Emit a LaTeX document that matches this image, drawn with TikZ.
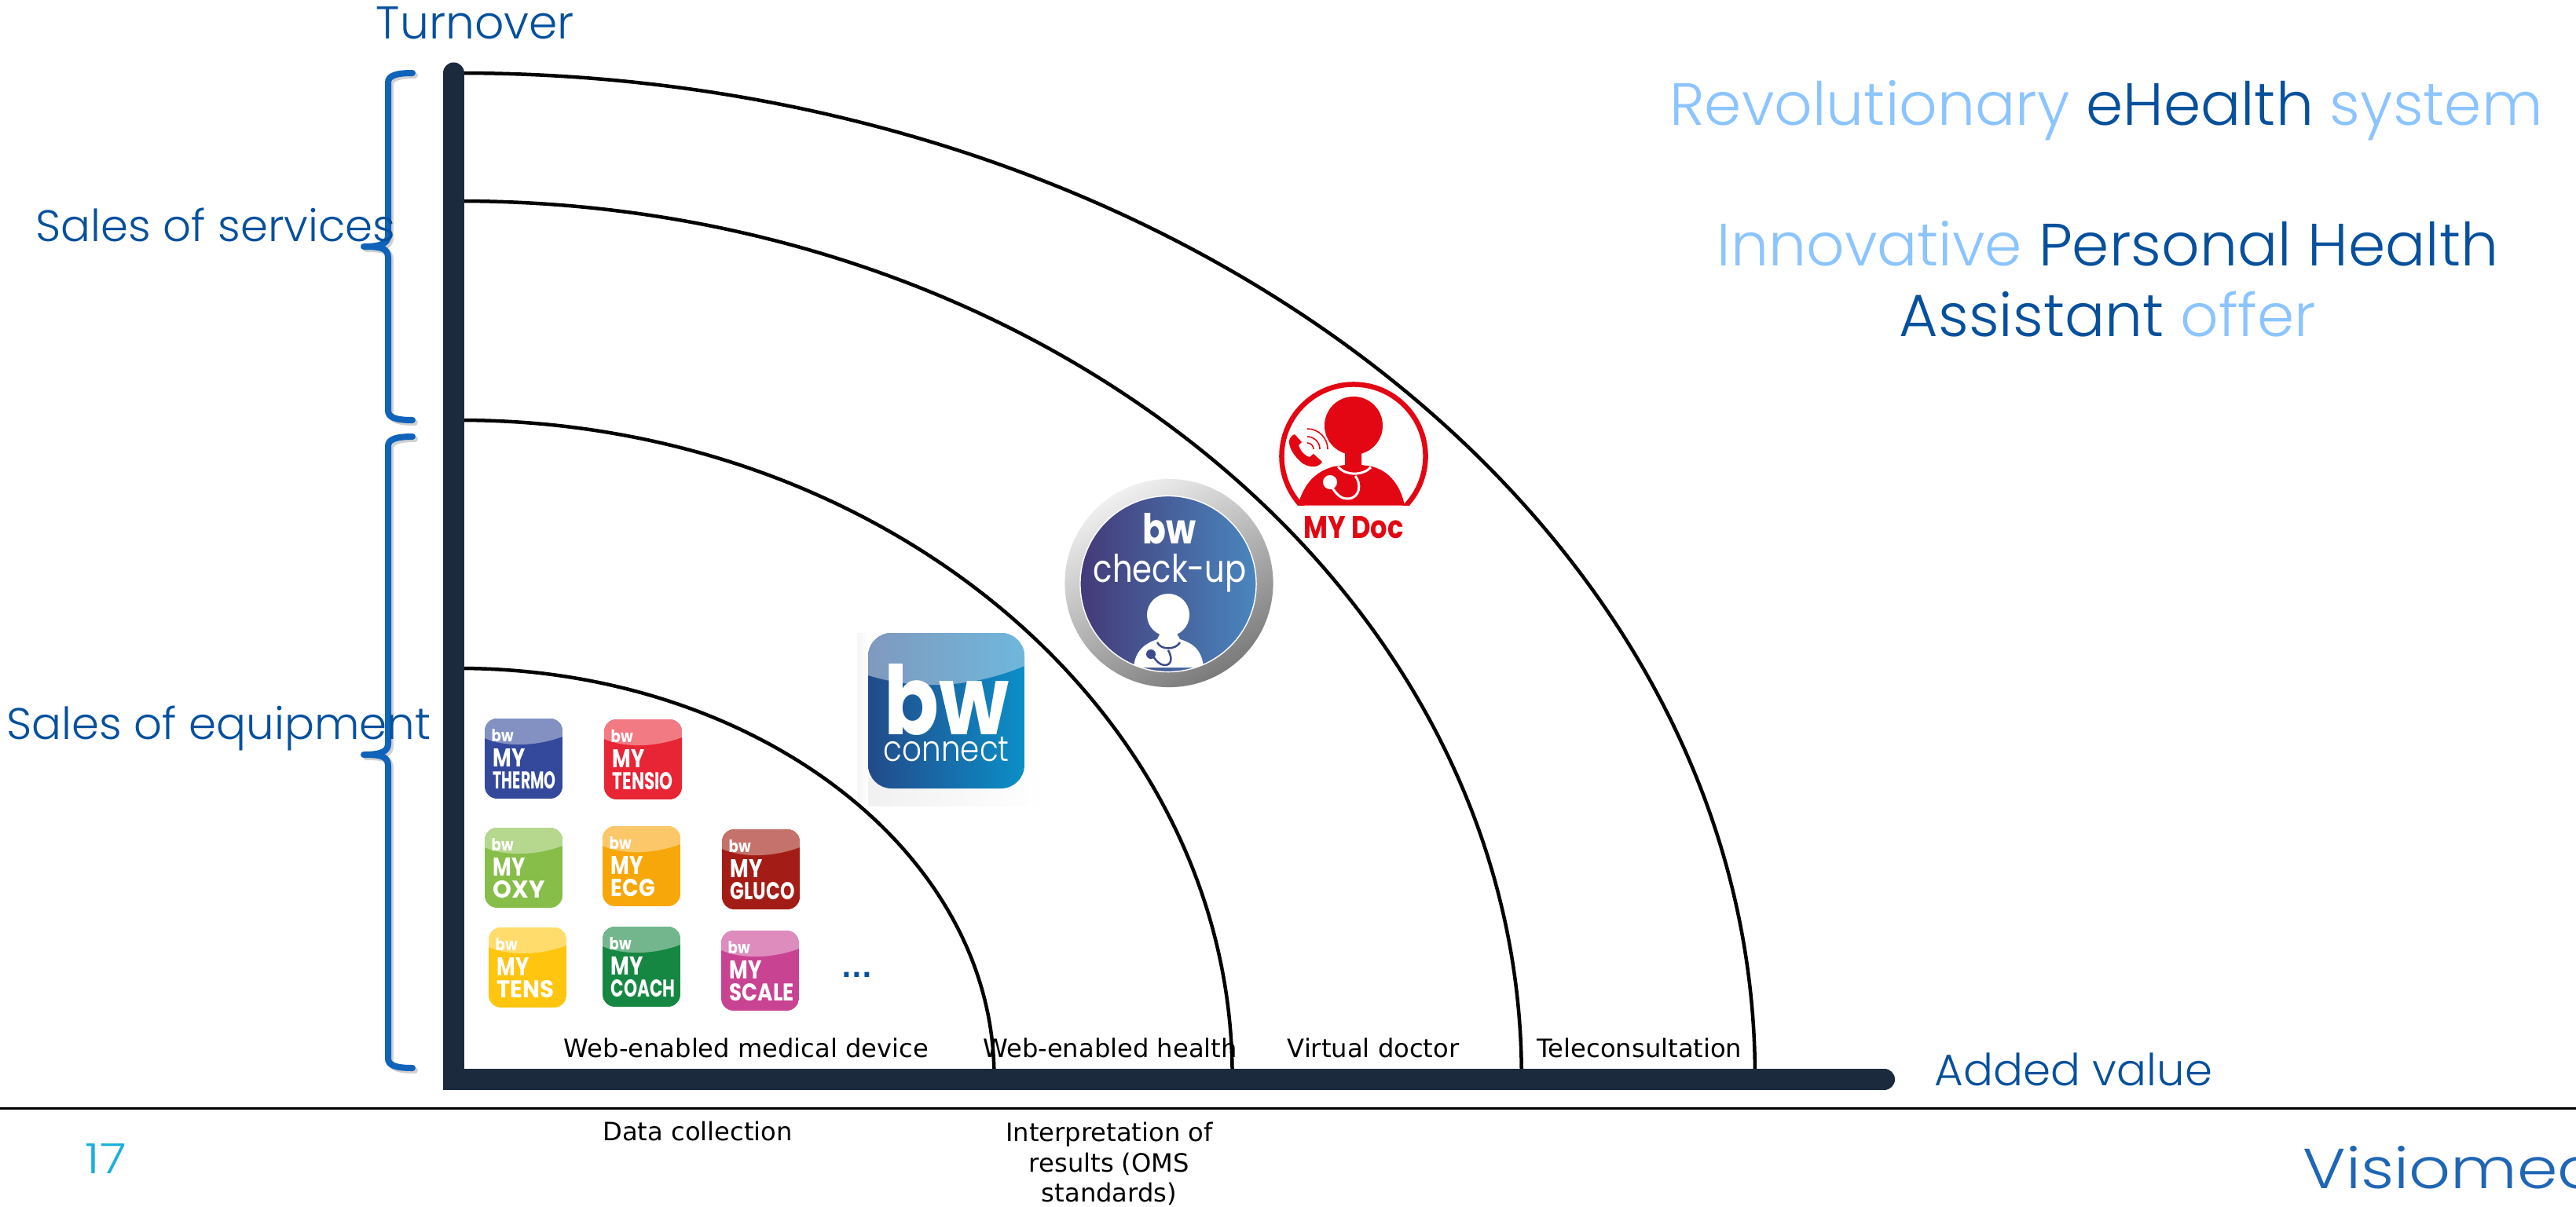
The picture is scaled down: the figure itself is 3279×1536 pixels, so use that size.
\documentclass[tikz,border=0pt]{standalone}
\usepackage{fontspec}
\usepackage{graphicx}
\setmainfont{Poppins Light}
\newfontfamily\plainfont{DejaVu Sans}
\newfontfamily\logofont{Poppins}
\usetikzlibrary{positioning}
\definecolor{axiscol}{HTML}{1C2A3E}
\definecolor{bluetxt}{HTML}{06509C}
\definecolor{paleblue}{HTML}{8CC4FF}
\definecolor{bracecol}{HTML}{0F63BA}
\definecolor{docred}{HTML}{E30613}
\definecolor{checkblue}{HTML}{3D4A8C}
\definecolor{pagecol}{HTML}{1BAFDC}
\definecolor{logocol}{HTML}{1F66B5}
\definecolor{connectA}{HTML}{234A8A}
\definecolor{connectB}{HTML}{0B8FC8}
\definecolor{connectC}{HTML}{8099BE}
\definecolor{connectD}{HTML}{6FB7DC}
\definecolor{checkA}{HTML}{443A78}
\definecolor{checkB}{HTML}{4A86BE}
\newdimen\pxu \pxu=0.01cm
\newcommand{\fitbox}[3]{\resizebox{#1\pxu}{#2\pxu}{#3}}
\tikzset{
	axisline/.style={line width=0.27cm,color=axiscol,line cap=round,line join=miter},
	curveline/.style={line width=0.045cm,color=black},
	bracket/.style={line width=0.08cm,color=bracecol,line cap=round,line join=round},
	bluelabel/.style={anchor=base west,inner sep=0pt,text=bluetxt,font=\fontsize{16}{18}\selectfont},
	headline/.style={anchor=base,inner sep=0pt,text=paleblue,font=\fontsize{21.6}{24}\selectfont},
	smalltxt/.style={anchor=base,inner sep=0pt,text=black,font=\plainfont\fontsize{9.15}{11}\selectfont},
	fitnode/.style={anchor=base west,inner sep=0pt,text=white,font=\logofont\bfseries}
}
% brace on the left of the vertical axis: top, tip, bottom
\newcommand{\salesbrace}[4]{
	\draw[#4] (525,#1) .. controls (505,#1) and (494,#1+3) .. (494,#1+12) -- (494,#2-14)
		.. controls (494,#2-4) and (485,#2) .. (463,#2) .. controls (485,#2) and (494,#2+2) .. (494,#2+14)
		-- (494,#3-12) .. controls (494,#3-3) and (505,#3) .. (525,#3);
}
% small app tile
\newcommand{\apptile}[7]{
	\definecolor{tiledark}{HTML}{#4}
	\definecolor{tilelight}{HTML}{#5}
	\begin{scope}[shift={(#2,#3)}]
		\begin{scope}
			\clip[rounded corners=4.5pt] (0,0) rectangle (99,102);
			\fill[tiledark] (0,0) rectangle (99,102);
			\fill[tilelight] (0,0) -- (0,25) .. controls (30,38) and (70,34) .. (99,23) -- (99,0) -- cycle;
		\end{scope}
		\node[fitnode] (#1bw) at (8,29) {\fitbox{28}{16}{bw}};
		\node[fitnode] (#1my) at (10,61) {\fitbox{41}{23}{MY}};
		\node[fitnode] (#1name) at (10,89) {\fitbox{#7}{22}{#6}};
	\end{scope}
}
\begin{document}
\begin{tikzpicture}[x=0.01cm,y=-0.01cm]
	\useasboundingbox (0,0) rectangle (3279,1536);
	\clip (0,0) rectangle (3279,1536);

	% pale halo under the connect tile
	\shade[left color=black!6,right color=white] (1091,990) rectangle (1330,1026);
	\shade[left color=black!4,right color=white] (1091,806) rectangle (1105,1026);

	% quarter curves
	\foreach \ytop/\rx/\ry in {93/16.50cm/12.77cm,256/13.53cm/11.14cm,535/9.85cm/8.35cm,851/6.82cm/5.19cm}
		\draw[curveline] (583,\ytop) arc[start angle=90,end angle=0,x radius=\rx,y radius=\ry];

	% axes
	\draw[axisline] (577.5,93) -- (577.5,1374.5) -- (2398.5,1374.5);
	\draw[line width=0.03cm] (0,1411) -- (3279,1411);

	% braces
	\begin{scope}[shift={(3,3)}]
		\salesbrace{93}{314}{535}{bracket,color=black!30,opacity=.6}
		\salesbrace{556}{961}{1360}{bracket,color=black!30,opacity=.6}
	\end{scope}
	\salesbrace{93}{314}{535}{bracket}
	\salesbrace{556}{961}{1360}{bracket}

	\node[bluelabel,font=\fontsize{16.6}{18}\selectfont] (turnover) at (478,49) {Turnover};
	\node[bluelabel] (services) at (45,307) {Sales of services};
	\node[bluelabel] (equipment) at (8,941) {Sales of equipment};
	\node[bluelabel] (addedvalue) at (2462,1382) {Added value};

	\node[headline] (headA) at (2681,159) {Revolutionary \textcolor{bluetxt}{eHealth} system};
	\node[headline] (headB) at (2683,338) {Innovative \textcolor{bluetxt}{Personal Health}};
	\node[headline] (headC) at (2683,428) {\textcolor{bluetxt}{Assistant} offer};

	% small tiles
	\apptile{thermo}{617}{915}{34499B}{8390C2}{THERMO}{80}
	\apptile{tensio}{769}{916}{E72535}{F27A82}{TENSIO}{77}
	\apptile{oxy}{617}{1054}{87BE4A}{B5D78E}{OXY}{66}
	\apptile{ecg}{767}{1052}{F8A70A}{FBC769}{ECG}{56}
	\apptile{gluco}{919}{1056}{A31C15}{C5716C}{GLUCO}{82}
	\apptile{tens}{622}{1181}{FFC50F}{FFDC6C}{TENS}{73}
	\apptile{coach}{767}{1180}{168742}{73B68E}{COACH}{82}
	\apptile{scale}{918}{1185}{C84392}{DE8BBD}{SCALE}{82}
	\node[anchor=base west,inner sep=0pt,text=bluetxt,font=\plainfont\bfseries\fontsize{9.5}{11}\selectfont] (moredots) at (1071,1244) {...};

	% bw connect tile
	\begin{scope}
		\clip[rounded corners=8.5pt] (1105,806) rectangle (1304,1004);
		\shade[left color=connectA,right color=connectB] (1105,806) rectangle (1304,1004);
		\shade[left color=connectC,right color=connectD] (1105,806) -- (1105,860) .. controls (1170,880) and (1240,875) .. (1304,848) -- (1304,806) -- cycle;
	\end{scope}
	\node[fitnode] (connectbw) at (1125,935) {\fitbox{159}{90}{bw}};
	\node[anchor=base west,inner sep=0pt,text=white,font=\rmfamily] (connecttxt) at (1124,969) {\fitbox{160}{31}{connect}};

	% check-up badge
	\shade[top color=black!6,bottom color=black!52,shading angle=30] (1488,742.5) circle[radius=1.325cm];
	\shade[left color=checkA,right color=checkB,draw=white] (1487,743.5) circle[radius=1.12cm];
	\begin{scope}
		\clip (1487,743.5) circle[radius=1.12cm];
		\fill[white] (1443,850) .. controls (1445,825) and (1462,818) .. (1473,814) -- (1480,800) -- (1494,800) -- (1502,814) .. controls (1515,818) and (1530,825) .. (1532,850) -- cycle;
		\fill[white] (1487,783) circle[radius=0.27cm];
		\draw[checkblue,line width=0.025cm] (1473,818) .. controls (1478,828) and (1496,828) .. (1502,818);
		\draw[checkblue,line width=0.025cm] (1487,828) .. controls (1494,840) and (1490,850) .. (1478,846) .. controls (1472,843) and (1470,838) .. (1466,834);
		\fill[checkblue] (1465,833) circle[radius=0.06cm];
	\end{scope}
	\node[fitnode] (checkbw) at (1454,692) {\fitbox{68}{39}{bw}};
	\node[anchor=base west,inner sep=0pt,text=white,font=\logofont] (checktxt) at (1391,741) {\fitbox{195}{36}{check-up}};

	% my doc badge
	\begin{scope}
		\clip (1600,470) rectangle (1840,643.5);
		\draw[docred,line width=0.065cm] (1723,581) circle[radius=0.915cm];
		\fill[docred] (1652,643.5) .. controls (1660,615) and (1675,600) .. (1698,594) -- (1712,592) -- (1712,570) -- (1733,570) -- (1733,592) -- (1746,594) .. controls (1770,600) and (1783,620) .. (1788,643.5) -- cycle;
	\end{scope}
	\fill[docred] (1723,542) circle[radius=0.37cm];
	\draw[white,line width=0.03cm] (1703,594) .. controls (1712,606) and (1735,606) .. (1745,595);
	\draw[white,line width=0.03cm] (1725,606) .. controls (1733,615) and (1732,635) .. (1715,635) .. controls (1705,635) and (1700,627) .. (1695,620);
	\fill[white] (1693,614) circle[radius=0.09cm];
	\fill[docred] (1648,553) -- (1657,563) -- (1653,567) .. controls (1656,576) and (1662,581) .. (1667,582) -- (1672,578) -- (1683,588) .. controls (1678,596) and (1668,596) .. (1658,590) .. controls (1648,582) and (1640,570) .. (1641,561) .. controls (1642,557) and (1645,554) .. (1648,553) -- cycle;
	\foreach \sr in {0.08,0.16,0.26}
		\draw[docred,line width=0.016cm] ({1664+0.0*\sr},{572-100*\sr}) arc[start angle=90,end angle=0,radius=\sr cm];
	\node[anchor=base west,inner sep=0pt,text=docred,font=\logofont\bfseries] (docname) at (1659,685) {\fitbox{127}{28}{MY Doc}};

	% axis texts
	\node[smalltxt] (devicetxt) at (950,1346) {Web-enabled medical device};
	\node[smalltxt] (healthtxt) at (1413,1346) {Web-enabled health};
	\node[smalltxt] (doctortxt) at (1748,1346) {Virtual doctor};
	\node[smalltxt] (teletxt) at (2087,1346) {Teleconsultation};
	\node[smalltxt] (datatxt) at (888,1452) {Data collection};
	\node[smalltxt] (interpA) at (1412,1453) {Interpretation of};
	\node[smalltxt] (interpB) at (1412,1492) {results (OMS};
	\node[smalltxt] (interpC) at (1412,1530) {standards)};

	% footer
	\node[anchor=base west,inner sep=0pt,text=pagecol] (pagenum) at (108,1494) {\fitbox{52}{38}{17}};
	\node[anchor=base west,inner sep=0pt,text=logocol] (logoname) at (2931,1513) {\fitbox{380}{54}{Visiomed}};
\end{tikzpicture}
\end{document}
